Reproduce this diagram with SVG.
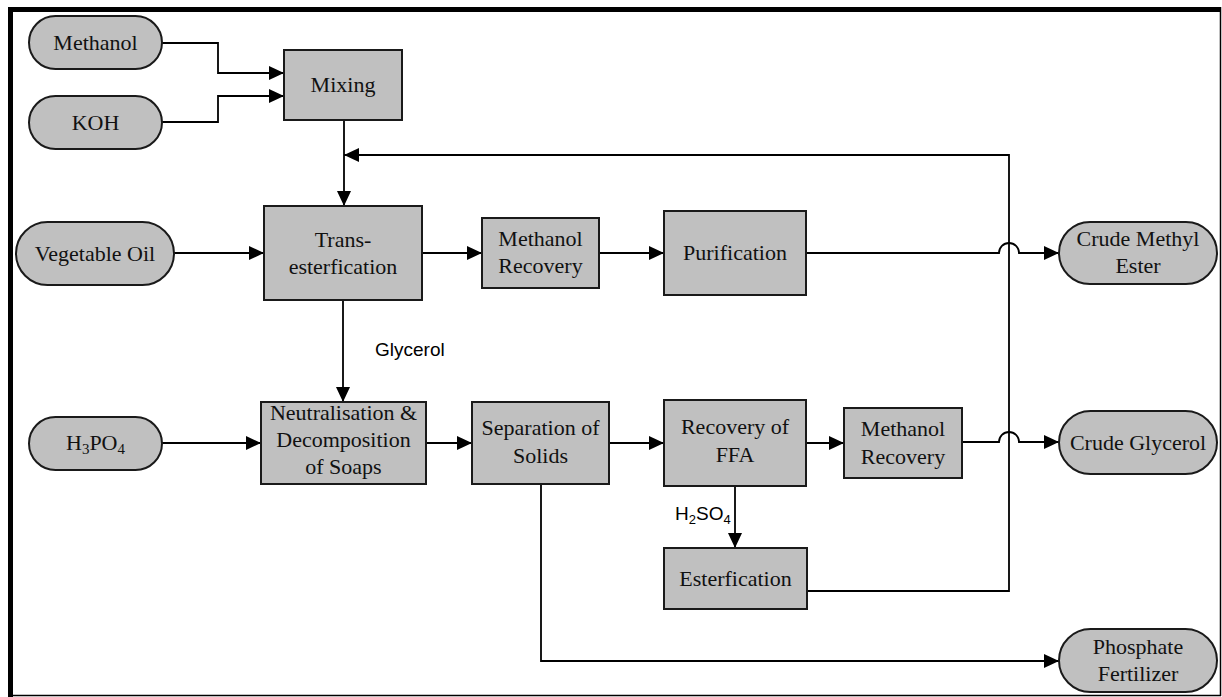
<svg xmlns="http://www.w3.org/2000/svg" width="1222" height="697" viewBox="0 0 1222 697">
<defs>
<marker id="arr" markerWidth="15" markerHeight="14" refX="15" refY="7" orient="auto" markerUnits="userSpaceOnUse">
<path d="M0,0 L15,7 L0,14 z" fill="#000"/>
</marker>
<style>
.box{fill:#c0c0c0;stroke:#1a1a1a;stroke-width:2}
.t{font-family:"Liberation Serif","Times New Roman",serif;font-size:22px;fill:#111;text-anchor:middle}
.s{font-family:"Liberation Sans",Arial,sans-serif;font-size:19px;fill:#000}
.c{fill:none;stroke:#000;stroke-width:1.8}
.ca{fill:none;stroke:#000;stroke-width:1.8;marker-end:url(#arr)}
</style>
</defs>
<rect width="1222" height="697" fill="#fff"/>
<g id="frame">
<rect x="8" y="7" width="1213" height="5" fill="#000"/>
<rect x="8" y="7" width="5" height="690" fill="#000"/>
<line x1="1220.5" y1="7" x2="1220.5" y2="696" stroke="#000" stroke-width="1.5"/>
<line x1="8" y1="695.5" x2="1221" y2="695.5" stroke="#000" stroke-width="1.5"/>
</g>
<g id="connectors">
<path class="ca" d="M162,43 H218 V73 H284"/>
<path class="ca" d="M162,122 H218 V96 H284"/>
<path class="ca" d="M344,120 V206"/>
<path class="ca" d="M807,591 H1009 V155 H344"/>
<path class="ca" d="M174,253 H264"/>
<path class="ca" d="M422,253 H482"/>
<path class="ca" d="M599,253 H664"/>
<path class="ca" d="M806,253 H999 A10,10 0 0 1 1019,253 H1059"/>
<path class="ca" d="M343,300 V402"/>
<path class="ca" d="M162,443 H261"/>
<path class="ca" d="M426,443 H472"/>
<path class="ca" d="M609,443 H664"/>
<path class="ca" d="M806,443 H844"/>
<path class="ca" d="M962,442 H999 A10,10 0 0 1 1019,442 H1059"/>
<path class="ca" d="M735,486 V548"/>
<path class="ca" d="M541,484 V661 H1059"/>
<text class="s" x="375" y="356">Glycerol</text>
<text class="s" x="675" y="520">H<tspan font-size="13" dy="4">2</tspan><tspan dy="-4">SO</tspan><tspan font-size="13" dy="4">4</tspan></text>
</g>
<g id="methanol"><rect class="box" x="29" y="16" width="133" height="53" rx="26.5"/><text class="t" x="95.5" y="50">Methanol</text></g>
<g id="koh"><rect class="box" x="29" y="96" width="133" height="53" rx="26.5"/><text class="t" x="95.5" y="130">KOH</text></g>
<g id="mixing"><rect class="box" x="284" y="50" width="118" height="70"/><text class="t" x="343" y="92">Mixing</text></g>
<g id="vegoil"><rect class="box" x="16" y="222" width="158" height="63" rx="31.5"/><text class="t" x="95" y="261">Vegetable Oil</text></g>
<g id="trans"><rect class="box" x="264" y="206" width="158" height="94"/><text class="t" x="343" y="247">Trans-</text><text class="t" x="343" y="274">esterfication</text></g>
<g id="mr1"><rect class="box" x="482" y="218" width="117" height="70"/><text class="t" x="540.5" y="246">Methanol</text><text class="t" x="540.5" y="273">Recovery</text></g>
<g id="purification"><rect class="box" x="664" y="211" width="142" height="84"/><text class="t" x="735" y="260">Purification</text></g>
<g id="cme"><rect class="box" x="1059" y="222" width="158" height="62" rx="31"/><text class="t" x="1138" y="246">Crude Methyl</text><text class="t" x="1138" y="273">Ester</text></g>
<g id="h3po4"><rect class="box" x="29" y="417" width="133" height="53" rx="26.5"/><text class="t" x="95.5" y="450">H<tspan font-size="15" dy="4">3</tspan><tspan dy="-4">PO</tspan><tspan font-size="15" dy="4">4</tspan></text></g>
<g id="neut"><rect class="box" x="261" y="402" width="165" height="82"/><text class="t" x="343.5" y="420">Neutralisation &amp;</text><text class="t" x="343.5" y="447">Decomposition</text><text class="t" x="343.5" y="474">of Soaps</text></g>
<g id="sep"><rect class="box" x="472" y="402" width="137" height="82"/><text class="t" x="540.5" y="435">Separation of</text><text class="t" x="540.5" y="463">Solids</text></g>
<g id="ffa"><rect class="box" x="664" y="400" width="142" height="86"/><text class="t" x="735" y="434">Recovery of</text><text class="t" x="735" y="462">FFA</text></g>
<g id="mr2"><rect class="box" x="844" y="408" width="118" height="70"/><text class="t" x="903" y="436">Methanol</text><text class="t" x="903" y="464">Recovery</text></g>
<g id="glycerol"><rect class="box" x="1059" y="411" width="158" height="63" rx="31.5"/><text class="t" x="1138" y="450">Crude Glycerol</text></g>
<g id="ester"><rect class="box" x="664" y="548" width="143" height="61"/><text class="t" x="735.5" y="586">Esterfication</text></g>
<g id="phosphate"><rect class="box" x="1059" y="629" width="158" height="63" rx="31.5"/><text class="t" x="1138" y="654">Phosphate</text><text class="t" x="1138" y="681">Fertilizer</text></g>
</svg>
